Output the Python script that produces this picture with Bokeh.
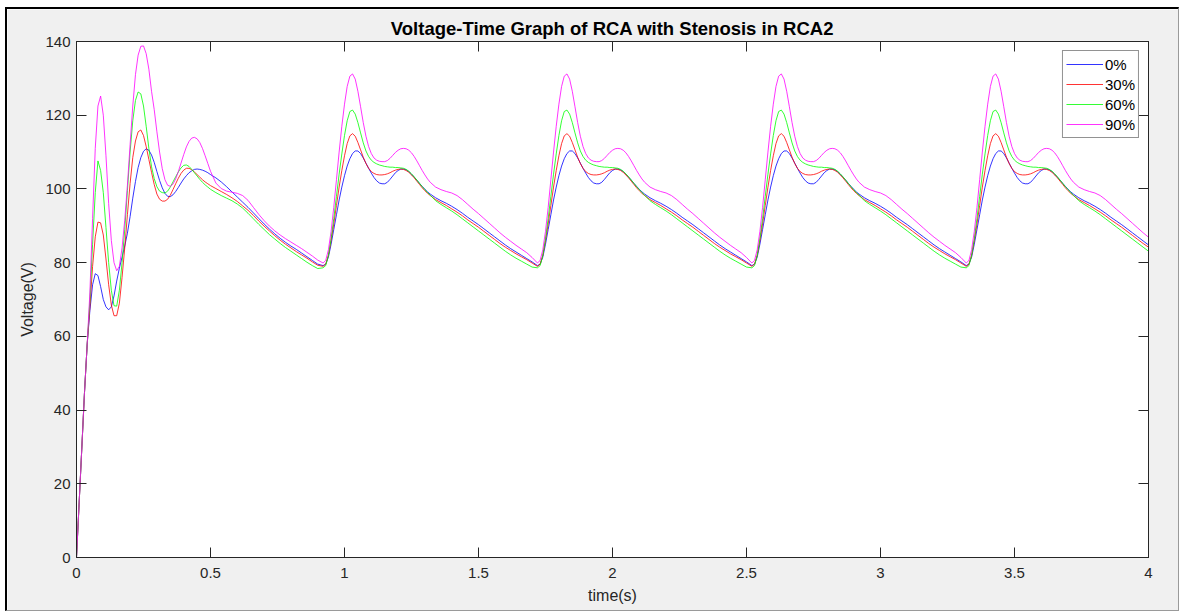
import numpy as np
from bokeh.plotting import figure
from bokeh.models import Range1d, FixedTicker, LinearAxis, Legend, LegendItem, Title
from bokeh.embed import file_html
from bokeh.resources import INLINE

# ---------------- data ----------------
series_names = ["0%", "30%", "60%", "90%"]
series_colors = ["#0000ff", "#ff0000", "#00ff00", "#ff00ff"]

# start-up transient, t = 0..0.50 (step 0.01) then 0.52..0.90 (step 0.02)
t_start = [round(0.01 * i, 2) for i in range(51)] + [round(0.52 + 0.02 * i, 2) for i in range(20)]

start_0 = [0, 15, 30, 45, 58, 67, 74, 77, 76.5, 73.5,
           70, 68, 67.2, 68, 71, 75, 78.5, 81.5, 84.5, 88,
           92.5, 97.5, 102, 105.8, 108.5, 110.2, 110.9, 110.5, 109.2, 107.2,
           104.7, 102.3, 100.3, 98.8, 98.0, 97.9, 98.4, 99.3, 100.4, 101.6,
           102.7, 103.6, 104.4, 104.9, 105.3, 105.4, 105.3, 105.1, 104.8, 104.4, 103.9,
           103.0, 101.9, 100.6, 99.2, 97.8, 96.4, 95.0, 93.5, 92.0, 90.5,
           89.1, 87.8, 86.6, 85.5, 84.5, 83.6, 82.6, 81.6, 80.6, 79.6]
start_30 = [0, 15, 30, 45, 58, 68, 79, 87, 91, 90.8,
            87.5, 81, 74, 68.5, 65.6, 65.6, 69, 76, 84, 93,
            101.5, 108.5, 113, 115.5, 116, 114.5, 111.5, 108, 104.5, 101.2,
            98.6, 97.2, 96.7, 96.7, 97.2, 98.3, 99.8, 101.4, 102.9, 104.2,
            105.1, 105.6, 105.6, 105.2, 104.6, 103.9, 103.2, 102.5, 101.9, 101.4, 100.9,
            100.1, 99.3, 98.5, 97.6, 96.6, 95.4, 94.2, 92.8, 91.3, 89.9,
            88.6, 87.3, 86.1, 85.0, 84.0, 83.0, 82.1, 81.2, 80.2, 79.3]
start_60 = [0, 15, 30, 45, 58, 70, 85, 99, 107.6, 105,
            99, 89.5, 80, 72.5, 68.3, 68.2, 72.5, 80, 89, 99.5,
            110, 118.5, 124, 126.3, 125.8, 122.5, 117, 111, 106, 102.8,
            100.6, 99.4, 99.0, 98.9, 99.4, 100.5, 101.9, 103.3, 104.6, 105.7,
            106.4, 106.5, 106.1, 105.3, 104.4, 103.5, 102.6, 101.8, 101.1, 100.5, 99.9,
            99.0, 98.2, 97.5, 96.8, 95.9, 94.8, 93.4, 91.9, 90.4, 89.0,
            87.6, 86.4, 85.2, 84.1, 83.1, 82.1, 81.1, 80.1, 79.2, 78.4]
start_90 = [0, 15, 30, 45, 58, 72, 92, 111, 122.5, 125.2,
            120, 109, 96, 86, 80, 77.8, 79, 84, 91.5, 101,
            112, 122.5, 131, 136.3, 138.7, 138.8, 136.7, 132.5, 126.5, 121.5,
            115.5, 110, 105.5, 102.5, 101, 100.7, 101.3, 102.7, 104.7, 107,
            109.3, 111.4, 112.9, 113.8, 114.0, 113.6, 112.6, 111.0, 109.0, 106.9, 104.8,
            101.6, 100.1, 99.4, 99.1, 98.8, 98.2, 96.9, 95.0, 93.1, 91.4,
            89.9, 88.6, 87.5, 86.5, 85.6, 84.7, 83.8, 82.8, 81.8, 80.7]

# one heart-beat period (0.8 s) read from the steady cycles, offsets from each minimum
beat_starts = [0.92, 1.72, 2.52, 3.32]
beat_offsets = [round(0.01 * i, 2) for i in range(41)] + [round(0.42 + 0.02 * i, 2) for i in range(19)]

beat_0 = [79.2, 79.6, 81.5, 85.0, 89.0, 93.0, 97.0, 100.5, 103.6, 106.2,
          108.2, 109.6, 110.3, 110.3, 109.6, 108.4, 107.0, 105.6, 104.3, 103.1,
          102.2, 101.6, 101.4, 101.4, 101.8, 102.6, 103.5, 104.4, 105.0, 105.4,
          105.4, 105.2, 104.7, 104.0, 103.2, 102.4, 101.5, 100.7, 99.9, 99.2, 98.6,
          97.6, 96.8, 96.1, 95.3, 94.4, 93.4, 92.3, 91.3, 90.3, 89.2,
          88.1, 87.0, 85.9, 84.8, 83.8, 82.9, 82.0, 81.1, 80.2]
beat_30 = [79.0, 79.6, 82.0, 86.0, 90.5, 95.5, 100.5, 105.0, 109.0, 112.3,
           114.4, 115.0, 114.3, 112.6, 110.6, 108.6, 106.9, 105.6, 104.7, 104.2,
           103.9, 103.8, 103.8, 103.9, 104.1, 104.4, 104.8, 105.1, 105.3, 105.4,
           105.3, 105.0, 104.5, 103.8, 103.0, 102.1, 101.2, 100.3, 99.5, 98.8, 98.2,
           97.1, 96.3, 95.5, 94.6, 93.7, 92.7, 91.6, 90.6, 89.6, 88.5,
           87.4, 86.3, 85.2, 84.2, 83.3, 82.4, 81.6, 80.8, 79.9]
beat_60 = [78.6, 79.2, 82.0, 86.5, 92.0, 98.0, 104.0, 109.5, 114.5, 118.5,
           121.0, 121.4, 120.3, 118.0, 115.2, 112.5, 110.3, 108.8, 107.8, 107.2,
           106.8, 106.5, 106.3, 106.1, 106.0, 105.9, 105.9, 105.8, 105.8, 105.7,
           105.6, 105.3, 104.8, 104.1, 103.3, 102.4, 101.5, 100.6, 99.8, 99.0, 98.3,
           96.8, 95.8, 94.9, 94.0, 93.0, 91.9, 90.8, 89.7, 88.6, 87.5,
           86.4, 85.3, 84.2, 83.1, 82.1, 81.2, 80.4, 79.6, 78.8]
beat_90 = [79.9, 80.6, 83.5, 88.5, 95.0, 102.5, 110.0, 117.0, 123.0, 127.8,
           130.6, 131.2, 129.8, 126.5, 122.3, 118.0, 114.3, 111.5, 109.6, 108.4,
           107.8, 107.5, 107.4, 107.4, 107.7, 108.3, 109.1, 109.9, 110.5, 110.9,
           111.0, 110.9, 110.5, 109.8, 108.8, 107.6, 106.3, 105.0, 103.8, 102.7, 101.8,
           100.5, 99.8, 99.3, 98.9, 98.2, 97.1, 95.8, 94.5, 93.3, 92.0,
           90.7, 89.4, 88.1, 86.9, 85.8, 84.7, 83.7, 82.7, 81.4]

x_ticks = [0, 0.5, 1, 1.5, 2, 2.5, 3, 3.5, 4]
x_tick_labels = ["0", "0.5", "1", "1.5", "2", "2.5", "3", "3.5", "4"]
y_ticks = [0, 20, 40, 60, 80, 100, 120, 140]
y_tick_labels = ["0", "20", "40", "60", "80", "100", "120", "140"]

title_text = "Voltage-Time Graph of RCA with Stenosis in RCA2"
x_label = "time(s)"
y_label = "Voltage(V)"
t_end = 4.0


def build(start_vals, beat_vals):
    t = list(t_start)
    v = list(start_vals)
    for s in beat_starts:
        for o, val in zip(beat_offsets, beat_vals):
            tt = round(s + o, 3)
            if tt <= t_end + 1e-9:
                t.append(tt)
                v.append(val)
    return t, v


series_data = [build(start_0, beat_0), build(start_30, beat_30),
               build(start_60, beat_60), build(start_90, beat_90)]

# ---------------- figure ----------------
FONT = "Liberation Sans"
TXT = "#262626"

p = figure(width=1174, height=604, output_backend="svg", toolbar_location=None,
           x_range=Range1d(0, 4), y_range=Range1d(0, 140),
           min_border_left=69, min_border_right=33, min_border_top=32, min_border_bottom=56)
p.margin = (7, 0, 0, 5)
p.styles = {"border-left": "2px solid #000000", "border-top": "2px solid #000000",
            "border-right": "1px solid #9a9a9a", "border-bottom": "1px solid #9a9a9a"}
p.background_fill_color = "white"
p.border_fill_color = "#f0f0f0"
p.outline_line_color = TXT
p.outline_line_width = 1
p.grid.visible = False

xt = FixedTicker(ticks=x_ticks)
yt = FixedTicker(ticks=y_ticks)


def style_axis(ax, ticker, labels, show_labels):
    ax.ticker = ticker
    ax.major_label_overrides = {k: l for k, l in zip(ticker.ticks, labels)}
    ax.minor_tick_line_color = None
    ax.major_tick_in = 10
    ax.major_tick_out = 0
    ax.major_tick_line_color = TXT
    ax.axis_line_color = TXT
    ax.major_label_text_font = FONT
    ax.major_label_text_color = TXT
    if show_labels:
        ax.major_label_text_font_size = "15px"
    else:
        ax.major_label_text_font_size = "1px"
        ax.major_label_text_alpha = 0
        ax.major_label_standoff = 0


style_axis(p.xaxis[0], xt, x_tick_labels, True)
style_axis(p.yaxis[0], yt, y_tick_labels, True)
p.xaxis[0].major_label_standoff = 10
p.yaxis[0].major_label_standoff = 6
p.xaxis[0].axis_label = x_label
p.yaxis[0].axis_label = y_label
for ax in (p.xaxis[0], p.yaxis[0]):
    ax.axis_label_text_font = FONT
    ax.axis_label_text_font_size = "16px"
    ax.axis_label_text_font_style = "normal"
    ax.axis_label_text_color = TXT
p.xaxis[0].axis_label_standoff = 6
p.yaxis[0].axis_label_standoff = 6

top_ax = LinearAxis()
right_ax = LinearAxis()
style_axis(top_ax, xt, x_tick_labels, False)
style_axis(right_ax, yt, y_tick_labels, False)
p.add_layout(top_ax, "above")
p.add_layout(right_ax, "right")

p.title = Title(text=title_text, align="center", text_font=FONT, text_font_size="18.5px",
                text_font_style="bold", text_color="#000000", standoff=5)

items = []
for (t, v), name, col in zip(series_data, series_names, series_colors):
    r = p.line(t, v, line_color=col, line_width=1, line_alpha=0.8)
    items.append(LegendItem(label=name, renderers=[r]))

legend = Legend(items=items, location="top_right")
legend.margin = 9
legend.padding = 3
legend.spacing = 0
legend.glyph_width = 37
legend.glyph_height = 20
legend.label_height = 20
legend.label_standoff = 2
legend.label_text_font = FONT
legend.label_text_font_size = "15px"
legend.label_text_color = "#000000"
legend.border_line_color = TXT
legend.border_line_width = 1
legend.background_fill_color = "white"
legend.background_fill_alpha = 1
p.add_layout(legend)

open("out.html", "w").write(file_html(p, INLINE))
